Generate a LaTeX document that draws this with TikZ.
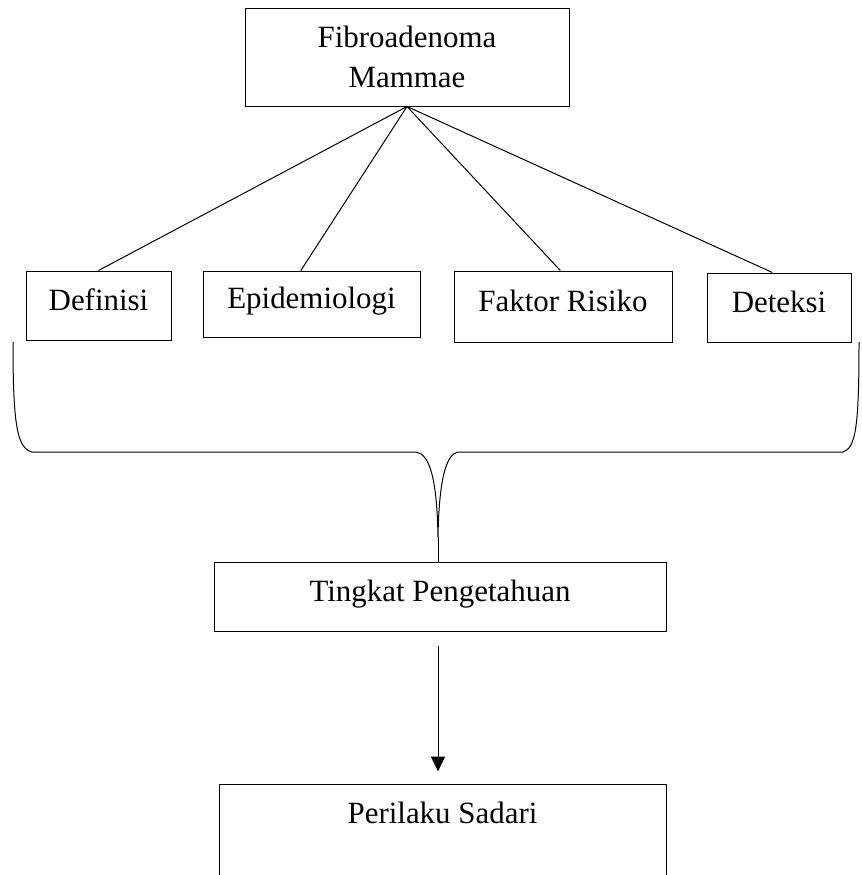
\documentclass[tikz,border=0pt]{standalone}
\usepackage{fontspec}
\setmainfont{Liberation Serif}
\usetikzlibrary{arrows.meta}

\begin{document}
\begin{tikzpicture}[x=0.75pt,y=0.75pt,yscale=-1,xscale=1,
  box/.style={draw, line width=0.75pt, inner sep=0pt, align=center, font=\fontsize{23.2}{30}\selectfont},
  itembox/.style={box, text height=16.2pt, text depth=9.3pt},
  link/.style={line width=0.75pt}]
%set diagram left start at 0, and has height of 875
\clip (0,0) rectangle (861,875);

% Text Node
\node[box, minimum width=243pt, minimum height=73.5pt] (fam) at (407,57) {Fibroadenoma\\Mammae};
% Text Node
\node[itembox, minimum width=108.75pt, minimum height=51.75pt] (definisi) at (98.5,305.5) {Definisi};
% Text Node
\node[itembox, minimum width=162.75pt, minimum height=49.5pt] (epid) at (311.5,304) {Epidemiologi};
% Text Node
\node[itembox, minimum width=163.5pt, minimum height=53.25pt] (faktor) at (563,306.5) {Faktor Risiko};
% Text Node
\node[itembox, minimum width=108pt, minimum height=51.75pt] (deteksi) at (779,307.5) {Deteksi};
% Text Node
\node[itembox, minimum width=339pt, minimum height=51.75pt] (tingkat) at (440,596.5) {Tingkat Pengetahuan};
% Text Node
\node[box, anchor=north, minimum width=335.25pt, inner ysep=12.25pt, text height=17pt, text depth=100pt] (perilaku) at (442.5,784) {Perilaku Sadari};

%Straight Lines
\draw[link] (fam.south) -- (definisi.north);
\draw[link] (fam.south) -- ([xshift=-8pt]epid.north);
\draw[link] (fam.south) -- ([xshift=-2pt]faktor.north);
\draw[link] (fam.south) -- ([xshift=-5pt]deteksi.north);

%Shape: Brace
\coordinate (tip) at (438,537);
\draw[link] (13,342) .. controls (13,425) and (17,448) .. (32,452) -- (416,452) .. controls (430,454) and (437,480) .. (tip) .. controls (439,480) and (446,454) .. (458,452) -- (843,452) .. controls (856,448) and (859,425) .. (859,342);
\draw[link] (tip) -- (tip |- tingkat.north);

%Straight Lines
\draw[link, -{Triangle[length=11pt,width=10.5pt]}, shorten <=10.5pt, shorten >=9.5pt] (tingkat.south -| tip) -- (perilaku.north -| tip);

\end{tikzpicture}
\end{document}
